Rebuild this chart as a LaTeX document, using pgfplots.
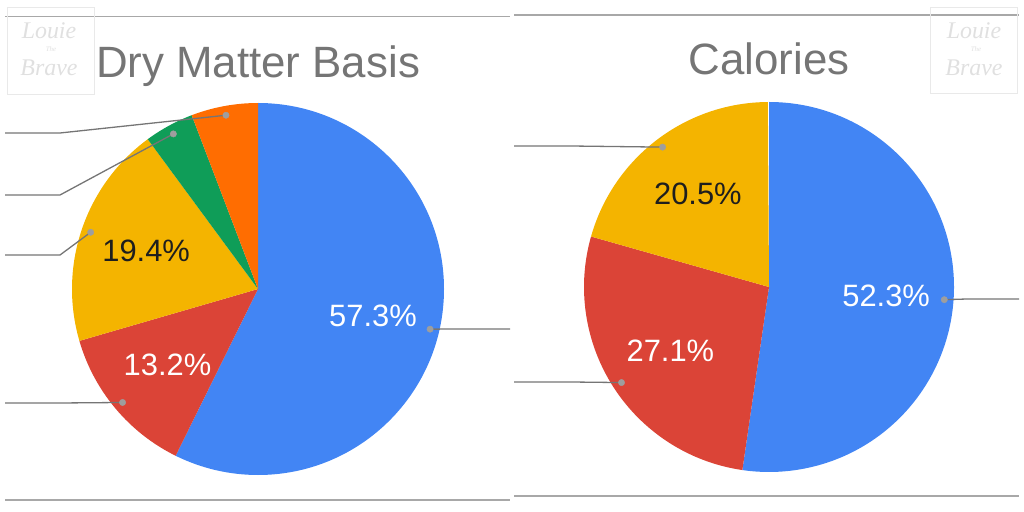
\documentclass[border=0pt]{standalone}
\usepackage{pgfplots}
\pgfplotsset{compat=1.18}
\usepackage{pgfplotstable}
\usepackage{fontspec}
\setmainfont{Liberation Sans}
\newfontfamily\wmfont{Liberation Serif}
\definecolor{gblue}{HTML}{4285F4}
\definecolor{gred}{HTML}{DB4437}
\definecolor{gyellow}{HTML}{F4B400}
\definecolor{ggreen}{HTML}{0F9D58}
\definecolor{gorange}{HTML}{FF6D01}
\definecolor{titlegray}{HTML}{757575}
\definecolor{leadgray}{HTML}{757575}
\definecolor{dotgray}{HTML}{9E9E9E}
\definecolor{framegray}{HTML}{A8A8A8}
\definecolor{wmgray}{HTML}{E0E0E0}
\definecolor{darktext}{HTML}{1E1E1E}

% share, slice colour, label colour, show label, leader level, leader side
\pgfplotstableread{
share color tc lbl ly side
57.3 gblue white 1 -40 1
13.2 gred white 1 -114 -1
19.4 gyellow darktext 1 34 -1
4.3 ggreen darktext 0 94 -1
5.8 gorange darktext 0 156 -1
}\drymatter

\pgfplotstableread{
share color tc lbl ly side
52.3 gblue white 1 -12 1
27.1 gred white 1 -95 -1
20.5 gyellow darktext 1 141 -1
}\calories

\pgfplotstablecreatecol[create col/expr accum={\pgfmathaccuma + \thisrow{share}}{0}]{cum}\drymatter
\pgfplotstablecreatecol[create col/expr accum={\pgfmathaccuma + \thisrow{share}}{0}]{cum}\calories

% #1 table, #2 radius
\newcommand\drawwedges[2]{%
\pgfplotsextra{%
  \pgfplotstablegetrowsof{#1}%
  \pgfmathtruncatemacro\nrows{\pgfplotsretval-1}%
  \foreach \i in {0,...,\nrows}{%
    \pgfplotstablegetelem{\i}{share}\of{#1}\let\sh\pgfplotsretval
    \pgfplotstablegetelem{\i}{cum}\of{#1}\let\cu\pgfplotsretval
    \pgfplotstablegetelem{\i}{color}\of{#1}\let\col\pgfplotsretval
    \pgfmathsetmacro\sa{90-3.6*(\cu-\sh)}%
    \pgfmathsetmacro\ea{90-3.6*\cu}%
    \fill[fill=\col] (axis cs:0,0) -- (axis cs:{#2*cos(\sa)},{#2*sin(\sa)})
       arc[start angle=\sa,end angle=\ea,radius=#2bp] -- cycle;
  }%
}}
% #1 table, #2 radius, #3 left edge, #4 right edge
\newcommand\drawleaders[4]{%
\pgfplotsextra{%
  \pgfplotstablegetrowsof{#1}%
  \pgfmathtruncatemacro\nrows{\pgfplotsretval-1}%
  \foreach \i in {0,...,\nrows}{%
    \pgfplotstablegetelem{\i}{share}\of{#1}\let\sh\pgfplotsretval
    \pgfplotstablegetelem{\i}{cum}\of{#1}\let\cu\pgfplotsretval
    \pgfplotstablegetelem{\i}{ly}\of{#1}\let\ly\pgfplotsretval
    \pgfplotstablegetelem{\i}{side}\of{#1}\let\sd\pgfplotsretval
    \pgfmathsetmacro\mi{90-3.6*(\cu-0.5*\sh)}%
    \ifnum\sd>0 \def\edge{#4}\else\def\edge{#3}\fi
    \draw[leadgray,line width=1.3bp] (axis cs:{0.95*#2*cos(\mi)},{0.95*#2*sin(\mi)})
       -- (axis cs:{\sd*198},\ly) -- (axis cs:\edge,\ly);
  }%
}}
% #1 table, #2 radius
\newcommand\drawlabels[2]{%
\pgfplotsextra{%
  \pgfplotstablegetrowsof{#1}%
  \pgfmathtruncatemacro\nrows{\pgfplotsretval-1}%
  \foreach \i in {0,...,\nrows}{%
    \pgfplotstablegetelem{\i}{share}\of{#1}\let\sh\pgfplotsretval
    \pgfplotstablegetelem{\i}{cum}\of{#1}\let\cu\pgfplotsretval
    \pgfplotstablegetelem{\i}{tc}\of{#1}\let\tcol\pgfplotsretval
    \pgfplotstablegetelem{\i}{lbl}\of{#1}\let\lb\pgfplotsretval
    \pgfmathsetmacro\mi{90-3.6*(\cu-0.5*\sh)}%
    \ifnum\lb=1
    \node[text=\tcol,font=\fontsize{31}{31}\selectfont,inner sep=0pt]
      at (axis cs:{0.635*#2*cos(\mi)},{0.635*#2*sin(\mi)})
      {\pgfmathprintnumber[fixed,precision=1,fixed zerofill,assume math mode=true]{\sh}\%};
    \fi
  }%
}}

\begin{document}
\begin{tikzpicture}
\useasboundingbox (0,0) rectangle (1024bp,512bp);
% ---------------- Dry Matter Basis ----------------
\begin{axis}[hide axis, x=1bp, y=1bp, xmin=-258, xmax=254, ymin=-223, ymax=289,
  clip=false, anchor=origin, at={(258bp,223bp)}]
  \draw[framegray,line width=1.3bp] (axis cs:-253,272.3) -- (axis cs:252,272.3);
  \draw[framegray,line width=1.3bp] (axis cs:-253,-211) -- (axis cs:252,-211);
  \draw[wmgray!70,line width=0.6bp] (axis cs:-251,282) rectangle (axis cs:-164,195);
  \node[wmgray,font=\wmfont\itshape\fontsize{24}{24}\selectfont] at (axis cs:-209,258) {Louie};
  \node[wmgray,font=\wmfont\itshape\fontsize{7}{7}\selectfont] at (axis cs:-207,240) {The};
  \node[wmgray,font=\wmfont\itshape\fontsize{24}{24}\selectfont] at (axis cs:-209,221) {Brave};
  \node[titlegray,anchor=base,font=\fontsize{44}{44}\selectfont,inner sep=0pt] at (axis cs:0,211) {Dry Matter Basis};
  \drawwedges{\drymatter}{186}
  \drawleaders{\drymatter}{186}{-253}{252}
  \addplot[only marks, mark=*, mark size=3.2, color=dotgray] table[
    x expr={0.95*186*cos(90-3.6*(\thisrow{cum}-0.5*\thisrow{share}))},
    y expr={0.95*186*sin(90-3.6*(\thisrow{cum}-0.5*\thisrow{share}))}]{\drymatter};
  \drawlabels{\drymatter}{186}
\end{axis}
% ---------------- Calories ----------------
\begin{axis}[hide axis, x=1bp, y=1bp, xmin=-257, xmax=255, ymin=-225, ymax=287,
  clip=false, anchor=origin, at={(769bp,225bp)}]
  \draw[framegray,line width=1.3bp] (axis cs:-255,272) -- (axis cs:250,272);
  \draw[framegray,line width=1.3bp] (axis cs:-255,-209) -- (axis cs:250,-209);
  \draw[wmgray!70,line width=0.6bp] (axis cs:161,280) rectangle (axis cs:248,194);
  \node[wmgray,font=\wmfont\itshape\fontsize{24}{24}\selectfont] at (axis cs:205,256) {Louie};
  \node[wmgray,font=\wmfont\itshape\fontsize{7}{7}\selectfont] at (axis cs:207,238) {The};
  \node[wmgray,font=\wmfont\itshape\fontsize{24}{24}\selectfont] at (axis cs:205,219) {Brave};
  \node[titlegray,anchor=base,font=\fontsize{44}{44}\selectfont,inner sep=0pt] at (axis cs:0,212) {Calories};
  \drawwedges{\calories}{185}
  \drawleaders{\calories}{185}{-255}{250}
  \addplot[only marks, mark=*, mark size=3.2, color=dotgray] table[
    x expr={0.95*185*cos(90-3.6*(\thisrow{cum}-0.5*\thisrow{share}))},
    y expr={0.95*185*sin(90-3.6*(\thisrow{cum}-0.5*\thisrow{share}))}]{\calories};
  \drawlabels{\calories}{185}
\end{axis}
\end{tikzpicture}
\end{document}
